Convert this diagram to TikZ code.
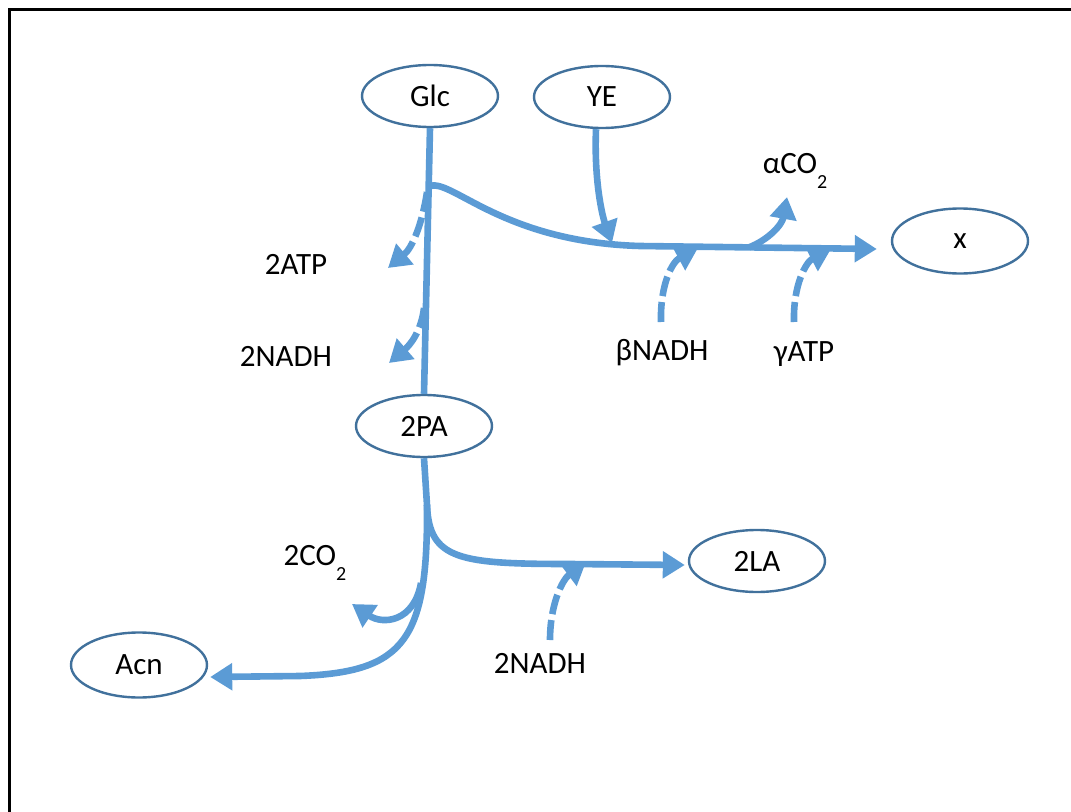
\documentclass[tikz,border=0pt]{standalone}
\usepackage{fontspec}
\setmainfont{Carlito}
\usetikzlibrary{shapes.geometric,arrows.meta,calc}
\definecolor{flowblue}{RGB}{91,155,213}
\definecolor{rimblue}{RGB}{65,113,156}
\tikzset{
  pool/.style={ellipse, draw=rimblue, line width=2.4bp, fill=white,
    minimum width=136bp, minimum height=62bp, inner sep=0pt,
    font=\fontsize{31bp}{36bp}\selectfont},
  flowline/.style={draw=flowblue, line width=6.6bp},
  flow/.style={flowline, -{Triangle[length=22bp,width=26bp]}},
  sideflow/.style={flow, dash pattern=on 20bp off 6bp},
  lbl/.style={anchor=base, inner sep=0pt, font=\fontsize{31bp}{36bp}\selectfont},
}
\newcommand{\subtwo}{\raisebox{-15bp}{\fontsize{20bp}{24bp}\selectfont 2}}
\begin{document}
\begin{tikzpicture}[x=1bp,y=-1bp]
\useasboundingbox (0,0) rectangle (1071,812);
% outer frame
\draw[line width=3bp] (9.5,9.5) rectangle (1100,840);

% metabolite pools
\node[pool] (Glc) at (430,96) {Glc};
\node[pool] (YE) at (602,97) {YE};
\node[pool, minimum height=65bp] (X) at (960,241) {x};
\node[pool] (PA) at (424,426) {2PA};
\node[pool] (LA) at (757,561) {2LA};
\node[pool, minimum height=65bp] (Acn) at (139,665) {Acn};

% side labels
\node[lbl] (atpA) at (296,274) {2ATP};
\node[lbl] (nadhA) at (286,366) {2NADH};
\node[lbl] (bnadh) at (662,360) {βNADH};
\node[lbl] (gatp) at (804,361) {γATP};
\node[lbl] (aco) at (795,173) {αCO\subtwo};
\node[lbl] (co) at (315,565) {2CO\subtwo};
\node[lbl] (nadhB) at (540,673) {2NADH};

% glycolysis: Glc -> 2PA
\draw[flowline] (Glc.south) -- (PA.north);
\coordinate (fork) at ($(Glc.south)!0.22!(PA.north)$);

% biomass branch towards x
\coordinate (bend) at (640,246);
\coordinate (xin) at ($(X.west)+(-14,8)$);
\draw[flow] (fork) .. controls (450,176) and (500,242) .. (bend) -- (xin);
\draw[flow] ($(YE.south)+(-6,0)$) .. controls (594,180) and (602,215) .. (612,243);
\draw[flow] ($(bend)!0.46!(xin)$) .. controls (768,240) and (782,225) .. (787,197);
\draw[sideflow] (661,322) .. controls (660,285) and (672,262) .. (698,248);
\draw[sideflow] (794,322) .. controls (793,285) and (806,262) .. (831,249);

% cofactors released in glycolysis
\draw[sideflow] (427,192) .. controls (422,225) and (412,248) .. (388,268);
\draw[sideflow] (424,308) .. controls (421,332) and (410,345) .. (389,363);

% 2PA split into lactate and acetoin
\coordinate (split) at (427,505);
\draw[flowline] (PA.south) -- (split);
\draw[flow] (split) .. controls (429,560) and (460,564) .. (570,564) -- ($(LA.west)+(-3,4)$);
\draw[flow] (split) .. controls (428,640) and (405,672) .. (300,676) -- ($(Acn.east)+(2,12)$);
\draw[flow] (421,583) .. controls (414,622) and (383,625) .. (352,604);
\draw[sideflow] (550,640) .. controls (550,605) and (562,580) .. (586,562);
\end{tikzpicture}
\end{document}
